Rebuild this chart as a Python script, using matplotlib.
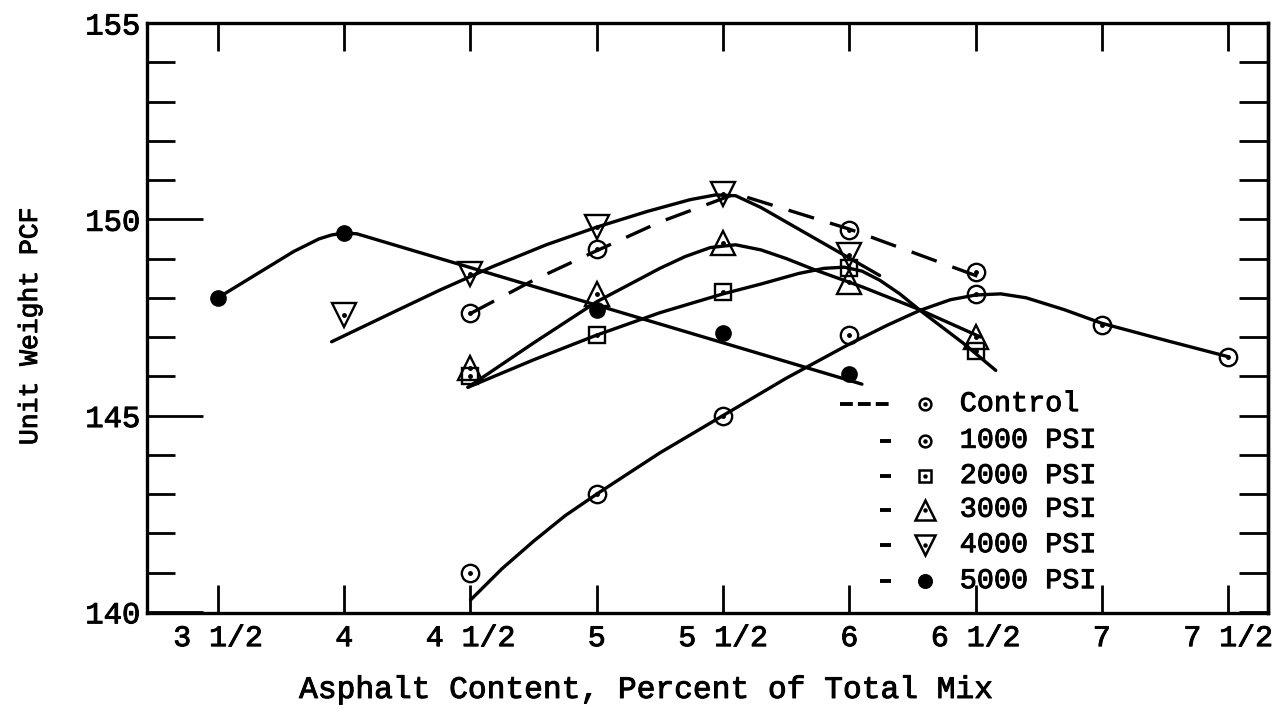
import numpy as np
import matplotlib
matplotlib.use('Agg')
import matplotlib.pyplot as plt
import matplotlib.patheffects as pe

plt.rcParams['font.family'] = ['Liberation Mono', 'DejaVu Sans Mono']

# measured points (asphalt content %, unit weight pcf)
control_x = [4.5, 5.0, 6.0, 6.5]
control_y = [147.6, 149.25, 149.73, 148.66]
psi1000_x = [4.5, 5.0, 5.5, 6.0, 6.5, 7.0, 7.5]
psi1000_y = [141.0, 143.0, 145.0, 147.05, 148.1, 147.3, 146.5]
psi2000_x = [4.5, 5.0, 5.5, 6.0, 6.5]
psi2000_y = [146.0, 147.05, 148.15, 148.75, 146.65]
psi3000_x = [4.5, 5.0, 5.5, 6.0, 6.5]
psi3000_y = [146.2, 148.1, 149.4, 148.4, 147.0]
psi4000_x = [4.0, 4.5, 5.0, 5.5, 6.0]
psi4000_y = [147.55, 148.6, 149.8, 150.65, 149.1]
psi5000_x = [3.5, 4.0, 5.0, 5.5, 6.0]
psi5000_y = [148.0, 149.65, 147.7, 147.1, 146.05]

# hand-fitted curves through each set
control_fit_x = [4.5, 4.75, 5.0, 5.25, 5.55, 6.0, 6.55]
control_fit_y = [147.6, 148.45, 149.2, 149.93, 150.65, 149.75, 148.45]
psi1000_fit_x = [4.5, 4.625, 4.75, 4.875, 5.0, 5.25, 5.5, 5.75, 6.0, 6.15, 6.28, 6.4,
                 6.5, 6.6, 6.7, 6.85, 7.0, 7.25, 7.5]
psi1000_fit_y = [140.3, 141.1, 141.8, 142.45, 143.0, 144.05, 145.0, 145.95, 146.82, 147.3,
                 147.68, 147.95, 148.07, 148.1, 148.0, 147.7, 147.35, 146.92, 146.5]
psi2000_fit_x = [4.49, 4.75, 5.0, 5.25, 5.5, 5.65, 5.8, 5.9, 5.98, 6.05, 6.12, 6.2,
                 6.28, 6.45, 6.58]
psi2000_fit_y = [145.72, 146.42, 147.05, 147.62, 148.1, 148.35, 148.62, 148.75, 148.78,
                 148.68, 148.45, 148.1, 147.68, 146.85, 146.15]
psi3000_fit_x = [4.49, 4.75, 5.0, 5.25, 5.35, 5.45, 5.55, 5.65, 5.75, 5.86, 6.05, 6.27, 6.52]
psi3000_fit_y = [145.72, 146.85, 147.9, 148.75, 149.05, 149.28, 149.35, 149.22, 149.0,
                 148.72, 148.28, 147.72, 147.0]
psi4000_fit_x = [3.95, 4.2, 4.38, 4.59, 4.8, 5.0, 5.2, 5.37, 5.47, 5.55, 5.65, 6.12]
psi4000_fit_y = [146.88, 147.65, 148.2, 148.8, 149.35, 149.8, 150.2, 150.5, 150.62,
                 150.6, 150.3, 148.57]
psi5000_fit_x = [3.5, 3.8, 3.9, 3.95, 4.0, 4.05, 6.05]
psi5000_fit_y = [148.0, 149.18, 149.5, 149.6, 149.65, 149.63, 145.8]

xticks = [3.5, 4.0, 4.5, 5.0, 5.5, 6.0, 6.5, 7.0, 7.5]
xtick_labels = ['3 1/2', '4', '4 1/2', '5', '5 1/2', '6', '6 1/2', '7', '7 1/2']
yticks = [140, 145, 150, 155]

legend_labels = ['Control', '1000 PSI', '2000 PSI', '3000 PSI', '4000 PSI', '5000 PSI']

lw = 2.4
k = 'black'
# slightly heavier type, like a typewriter ribbon
ink = [pe.withStroke(linewidth=0.7, foreground=k)]

fig = plt.figure(figsize=(12.78, 7.15), dpi=100)
ax = fig.add_axes([147 / 1278, 1 - 613 / 715, 1121 / 1278, 590 / 715])
ax.set_xlim(3.219, 7.658)
ax.set_ylim(139.97, 155.0)

# curves
ax.plot(control_fit_x, control_fit_y, color=k, lw=lw, dashes=(8, 5), solid_capstyle='butt')
for fx, fy in [(psi1000_fit_x, psi1000_fit_y), (psi2000_fit_x, psi2000_fit_y),
               (psi3000_fit_x, psi3000_fit_y), (psi4000_fit_x, psi4000_fit_y),
               (psi5000_fit_x, psi5000_fit_y)]:
    ax.plot(fx, fy, color=k, lw=lw, solid_capstyle='round', solid_joinstyle='round')

# markers
open_kw = dict(ls='none', mfc='none', mec=k, mew=1.7, zorder=3)
dot_kw = dict(ls='none', marker='o', ms=2.5, color=k, zorder=4)
ax.plot(control_x, control_y, marker='o', ms=12.5, **open_kw)
ax.plot(psi1000_x, psi1000_y, marker='o', ms=12.5, **open_kw)
ax.plot(psi2000_x, psi2000_y, marker='s', ms=11, **open_kw)
ax.plot(psi3000_x, psi3000_y, marker='^', ms=17, **open_kw)
ax.plot(psi4000_x, psi4000_y, marker='v', ms=17, **open_kw)
for px, py in [(control_x, control_y), (psi1000_x, psi1000_y), (psi2000_x, psi2000_y),
               (psi3000_x, psi3000_y), (psi4000_x, psi4000_y)]:
    ax.plot(px, py, **dot_kw)
ax.plot(psi5000_x, psi5000_y, ls='none', marker='o', ms=11, color=k, zorder=3)

# frame and ticks
for s in ax.spines.values():
    s.set_linewidth(2.4)
ax.set_xticks(xticks)
ax.set_xticklabels(xtick_labels, fontsize=21.5)
ax.tick_params(axis='x', direction='in', length=20, width=2, top=True, pad=8)
ax.set_yticks(yticks)
ax.set_yticklabels([str(v) for v in yticks], fontsize=22)
ax.set_yticks(np.arange(140, 156, 1), minor=True)
ax.tick_params(axis='y', which='major', direction='in', length=40, width=2, pad=5)
ax.tick_params(axis='y', which='minor', direction='in', length=20, width=2)
for t in ax.get_xticklabels() + ax.get_yticklabels():
    t.set_path_effects(ink)
rax = ax.secondary_yaxis('right')
rax.set_yticks(np.arange(140, 156, 1))
rax.tick_params(direction='in', length=21, width=2, labelright=False)
rax.spines['right'].set_linewidth(2.4)

fig.text(646 / 1278, 1 - 690 / 715, 'Asphalt Content, Percent of Total Mix',
         fontsize=22.5, ha='center', va='center', path_effects=ink)
fig.text(30 / 1278, 1 - 326 / 715, 'Unit Weight PCF', fontsize=19,
         rotation=90, ha='center', va='center', path_effects=ink)

# key
rows = [0.354, 0.292, 0.232, 0.175, 0.115, 0.054]
mk_x = 0.694
tx = 0.725
tr = ax.transAxes
ax.plot([0.618, 0.662], [rows[0]] * 2, transform=tr, color=k, lw=2.8, dashes=(3.3, 1.3),
        dash_capstyle='butt')
for r in rows[1:]:
    ax.plot([0.654, 0.664], [r, r], transform=tr, color=k, lw=2.8, solid_capstyle='butt')
leg_marks = [('o', 8.5, 'none'), ('o', 8.5, 'none'), ('s', 8, 'none'),
             ('^', 15, 'none'), ('v', 15, 'none'), ('o', 9, k)]
for r, (m, ms, fc) in zip(rows, leg_marks):
    ax.plot([mk_x], [r], transform=tr, marker=m, ms=ms, mfc=fc, mec=k, mew=1.8, ls='none')
    if fc == 'none':
        ax.plot([mk_x], [r], transform=tr, marker='o', ms=2.2, color=k, ls='none')
for r, lab in zip(rows, legend_labels):
    ax.text(tx, r, lab, transform=tr, fontsize=20.5, ha='left', va='center', path_effects=ink)

fig.savefig('out.png', dpi=100)
